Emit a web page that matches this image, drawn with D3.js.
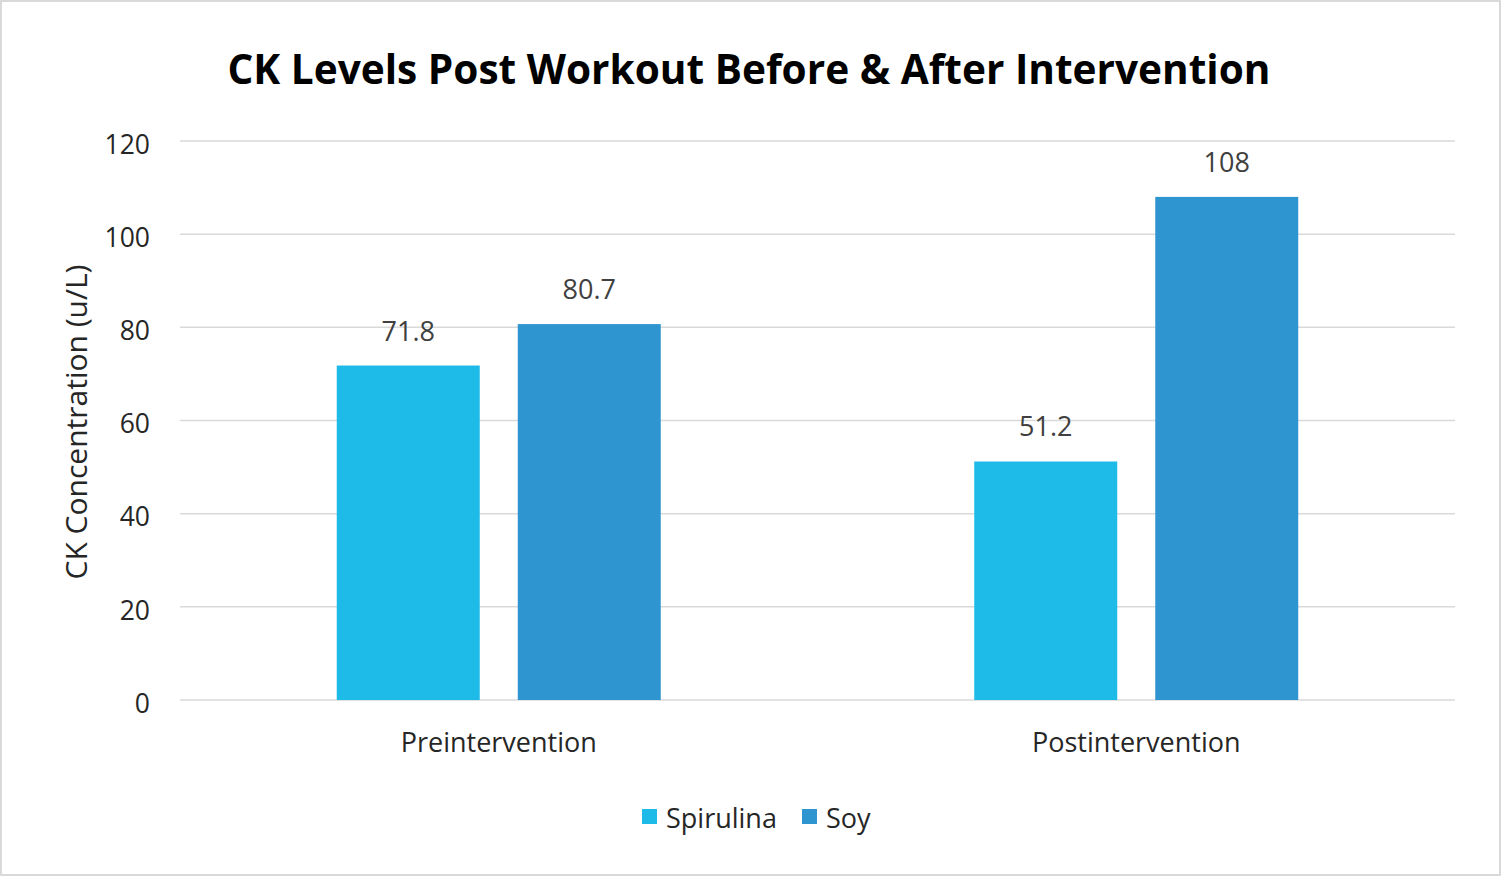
<!DOCTYPE html>
<html><head><meta charset="utf-8">
<script src="https://cdn.jsdelivr.net/npm/d3@7"></script>
<style>
html,body{margin:0;padding:0;background:#fff;}
svg{display:block;}
text{font-family:"Open Sans","Noto Sans",sans-serif;}
</style></head>
<body>
<svg id="chart" width="1502" height="877"></svg>
<script>
const categories = ["Preintervention", "Postintervention"];
const seriesNames = ["Spirulina", "Soy"];
const spirulinaValues = [71.8, 51.2];
const soyValues = [80.7, 108];
const yTicks = [0, 20, 40, 60, 80, 100, 120];
const colors = ["#1EBBE9", "#2E95D0"];

const svg = d3.select("#chart");
svg.append("rect").attr("x",1).attr("y",1).attr("width",1499).attr("height",874)
  .attr("fill","#fff").attr("stroke","#d9d9d9").attr("stroke-width",2);

const plotLeft = 180, plotRight = 1455, plotTop = 141, plotBottom = 700;
const y = d3.scaleLinear().domain([0,120]).range([plotBottom, plotTop]);
const x0 = d3.scaleBand().domain(categories).range([plotLeft, plotRight]).padding(0);
const groupW = 324;
const x1 = d3.scaleBand().domain(seriesNames).range([0, groupW]).paddingInner(0.21).paddingOuter(0);
const groupOffset = (x0.bandwidth() - groupW) / 2;

// gridlines
svg.append("g").selectAll("line").data(yTicks).join("line")
  .attr("x1", plotLeft).attr("x2", plotRight)
  .attr("y1", d => y(d)).attr("y2", d => y(d))
  .attr("stroke", "#d9d9d9").attr("stroke-width", 1.5);

// y tick labels via axis
const yAxis = svg.append("g").attr("transform", `translate(${plotLeft-30},3)`)
  .call(d3.axisLeft(y).tickValues(yTicks).tickSize(0).tickPadding(0));
yAxis.select(".domain").remove();
yAxis.selectAll("text").attr("font-size", 26.5).attr("fill", "#262626")
  .attr("font-family", '"Open Sans",sans-serif').attr("dy", "0.35em");

// bars
const data = categories.map((c,i) => ({cat:c, vals:[spirulinaValues[i], soyValues[i]]}));
const groups = svg.append("g").selectAll("g").data(data).join("g")
  .attr("transform", d => `translate(${x0(d.cat)+groupOffset},0)`);
groups.selectAll("rect").data(d => d.vals.map((v,j)=>({s:seriesNames[j], v, j}))).join("rect")
  .attr("x", d => x1(d.s)).attr("width", x1.bandwidth())
  .attr("y", d => y(d.v)).attr("height", d => plotBottom - y(d.v))
  .attr("fill", d => colors[d.j]);
groups.selectAll("text").data(d => d.vals.map((v,j)=>({s:seriesNames[j], v, j}))).join("text")
  .attr("x", d => x1(d.s) + x1.bandwidth()/2).attr("y", d => y(d.v) - 25)
  .attr("text-anchor","middle").attr("font-size",27).attr("fill","#404040")
  .text(d => d.v);

// x axis category labels
const xAxis = svg.append("g").attr("transform", `translate(0,${plotBottom})`)
  .call(d3.axisBottom(x0).tickSize(0).tickPadding(0));
xAxis.select(".domain").remove();
xAxis.selectAll("text").attr("font-size",27).attr("fill","#262626")
  .attr("font-family", '"Open Sans",sans-serif').attr("dy", null).attr("y", 52);

// title
svg.append("text").attr("x", 749).attr("y", 84).attr("text-anchor","middle")
  .attr("font-size", 40.6).attr("font-weight", 700).attr("fill","#000")
  .text("CK Levels Post Workout Before & After Intervention");

// y axis title
svg.append("text").attr("transform", "translate(87,422) rotate(-90)")
  .attr("text-anchor","middle").attr("font-size",30).attr("fill","#262626")
  .text("CK Concentration (u/L)");

// legend
const legendX = [642, 802];
const lg = svg.append("g").selectAll("g").data(seriesNames).join("g")
  .attr("transform", (d,i) => `translate(${legendX[i]},0)`);
lg.append("rect").attr("x",0).attr("y",809).attr("width",15).attr("height",15)
  .attr("fill", (d,i) => colors[i]);
lg.append("text").attr("x",24).attr("y",828).attr("font-size",27).attr("fill","#262626")
  .text(d => d);
</script>
</body></html>
